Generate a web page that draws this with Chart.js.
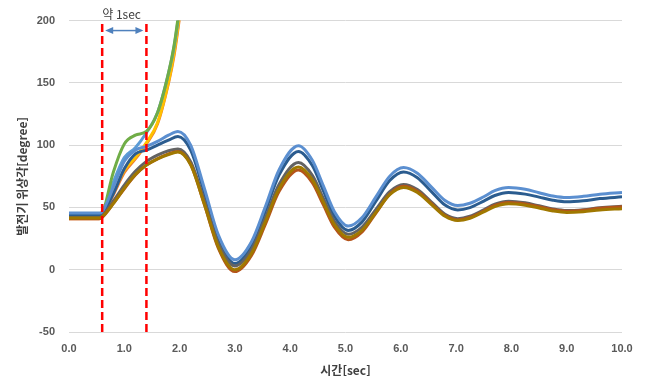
<!DOCTYPE html>
<html lang="ko">
<head>
<meta charset="UTF-8">
<title>발전기 위상각</title>
<script src="https://cdn.jsdelivr.net/npm/chart.js"></script>
<style>
  html, body { margin: 0; padding: 0; background: #fff; }
  #wrap { width: 645px; height: 392px; }
</style>
</head>
<body>
<div id="wrap"><canvas id="angleChart" width="645" height="392"></canvas></div>
<script>
// time axis points for the stable (damped) cases
const stableX = [0, 0.55, 0.6, 0.8, 1.0, 1.2, 1.4, 1.6, 1.8, 1.97, 2.2, 2.45, 2.7, 3.0, 3.3, 3.55, 3.8, 4.15, 4.4, 4.6, 4.8, 5.05, 5.3, 5.55, 5.8, 6.05, 6.3, 6.55, 6.8, 7.03, 7.25, 7.5, 7.7, 7.95, 8.25, 8.5, 8.75, 9.0, 9.3, 9.6, 10];
const lightBlue = [45.5, 45.5, 46.5, 66, 87, 96, 99, 103, 108, 111, 100, 65, 28, 8, 22.5, 50.5, 80.3, 99.5, 87.8, 67.3, 46.6, 35, 41.9, 58.5, 75.1, 82, 77.4, 66.5, 55.5, 51.5, 53.4, 58.6, 63.5, 66, 64.6, 61.8, 59.2, 58, 58.9, 60.6, 62];
const darkBlue = [44, 44, 45, 61, 81, 93, 96, 100, 104, 107, 96, 61.6, 24.9, 5, 19.3, 46.9, 76.1, 95, 83.6, 63.3, 42.9, 31.5, 38.4, 55, 71.6, 78.5, 73.9, 62.9, 51.9, 48, 49.9, 55.1, 59.6, 62, 60.7, 58.3, 55.8, 54.5, 55.3, 57.1, 58.5];
const darkGray = [42, 42, 43, 55, 68, 79, 87, 92, 95.5, 97, 86.8, 55.2, 21.3, 3, 16.2, 41.6, 68.6, 86, 75.7, 57.3, 38.9, 28.5, 34.3, 48.5, 62.7, 68.5, 64.3, 54.5, 44.5, 41, 42.9, 48.1, 52.6, 55, 53.7, 51.3, 48.8, 47.5, 48.2, 49.8, 51];
const brown = [41, 41, 42, 53, 65, 76, 84, 89, 93, 95, 84.6, 52.1, 17.3, -1.5, 11.5, 36.4, 62.9, 80, 69.9, 52, 34.1, 24, 30.3, 45.5, 60.7, 67, 62.9, 53.2, 43.5, 40, 41.9, 47.1, 51.6, 54, 52.8, 50.5, 48.2, 47, 47.7, 49.3, 50.5];
const olive = [41.5, 41.5, 42.5, 53, 65.5, 76.5, 84, 89, 92.5, 94.5, 84.3, 52.4, 18.4, 0, 13.1, 38.4, 65.2, 82.5, 72.3, 54.3, 36.2, 26, 31.8, 46, 60.2, 66, 62, 52.5, 42.9, 39.5, 41.3, 46.4, 50.7, 53, 51.8, 49.5, 47.2, 46, 46.6, 48, 49];

// unstable cases (run off the top of the chart)
const unstableX = [0, 0.55, 0.6, 0.8, 1.0, 1.2, 1.4, 1.6, 1.8, 1.9, 2.0, 2.1];
const greenUp = [42, 42, 44, 78, 101, 108, 111, 126, 158, 180, 212, 250];
const blueUp = [43, 43, 45, 70, 90, 98, 110, 126, 158, 179, 210, 248];
const orangeUp = [41, 41, 43, 60, 78, 89, 101, 117, 150, 172, 203, 240];
const yellowUp = [41.5, 41.5, 43, 62, 80, 90, 102, 118, 151, 174, 205, 242];

// fault markers and annotation
const markerX = [0.6, 1.4];
const markerY = [-50, 200];
const arrowY = 192;
const noteText = "약 1sec";

const toPoints = (xs, ys) => xs.map((x, i) => ({ x: x, y: ys[i] }));

function lineSet(xs, ys, color) {
  return {
    data: toPoints(xs, ys),
    borderColor: color,
    borderWidth: 3,
    pointRadius: 0,
    fill: false,
    cubicInterpolationMode: "monotone"
  };
}

const markerSets = markerX.map((mx) => ({
  data: markerY.map((my) => ({ x: mx, y: my })),
  borderColor: "#FF0000",
  borderWidth: 2.5,
  borderDash: [8, 4],
  pointRadius: 0,
  fill: false,
  clip: false
}));

// draws the double arrow between the markers and the label above it
const arrowNote = {
  id: "arrowNote",
  afterDatasetsDraw(chart) {
    const ctx = chart.ctx;
    const xs = chart.scales.x;
    const ys = chart.scales.y;
    const x1 = xs.getPixelForValue(markerX[0]) + 3;
    const x2 = xs.getPixelForValue(markerX[1]) - 3;
    const y = ys.getPixelForValue(arrowY);
    const head = 8;
    ctx.save();
    ctx.strokeStyle = "#4F81BD";
    ctx.fillStyle = "#4F81BD";
    ctx.lineWidth = 1.5;
    ctx.beginPath();
    ctx.moveTo(x1 + head - 1, y);
    ctx.lineTo(x2 - head + 1, y);
    ctx.stroke();
    ctx.beginPath();
    ctx.moveTo(x1, y);
    ctx.lineTo(x1 + head, y - 3.5);
    ctx.lineTo(x1 + head, y + 3.5);
    ctx.closePath();
    ctx.fill();
    ctx.beginPath();
    ctx.moveTo(x2, y);
    ctx.lineTo(x2 - head, y - 3.5);
    ctx.lineTo(x2 - head, y + 3.5);
    ctx.closePath();
    ctx.fill();

    ctx.fillStyle = "#404040";
    ctx.font = "12px 'Noto Sans CJK KR', 'Liberation Sans', sans-serif";
    ctx.textAlign = "center";
    ctx.textBaseline = "middle";
    ctx.fillText(noteText, xs.getPixelForValue(0.95), ys.getPixelForValue(205));
    ctx.restore();
  }
};

const ctx = document.getElementById("angleChart").getContext("2d");
new Chart(ctx, {
  type: "line",
  data: {
    datasets: [
      ...markerSets,
      lineSet(stableX, olive, "#A07800"),
      lineSet(stableX, brown, "#B5541A"),
      lineSet(stableX, darkGray, "#636363"),
      lineSet(stableX, lightBlue, "#5B8FD0"),
      lineSet(stableX, darkBlue, "#2B5C8F"),
      lineSet(unstableX, greenUp, "#70AD47"),
      lineSet(unstableX, blueUp, "#5B9BD5"),
      lineSet(unstableX, yellowUp, "#FFC000"),
      lineSet(unstableX, orangeUp, "#ED7D31")
    ]
  },
  options: {
    responsive: false,
    animation: false,
    layout: { padding: { top: 14, right: 23, left: 0, bottom: 0 } },
    plugins: { legend: { display: false }, tooltip: { enabled: false } },
    scales: {
      x: {
        type: "linear",
        min: 0,
        max: 10,
        afterFit: (scale) => { scale.height = 60; },
        grid: { display: false, drawTicks: false },
        border: { display: false },
        ticks: {
          stepSize: 1,
          padding: 10,
          color: "#595959",
          font: { family: "'Liberation Sans', sans-serif", size: 11, weight: "bold" },
          callback: (v) => Number(v).toFixed(1)
        },
        title: {
          display: true,
          text: "시간[sec]",
          color: "#404040",
          font: { family: "'Noto Sans CJK KR', sans-serif", size: 12, weight: "bold" },
          padding: { top: 0, bottom: 14 }
        }
      },
      y: {
        min: -50,
        max: 200,
        afterFit: (scale) => { scale.width = 69; },
        grid: { color: "#D9D9D9", lineWidth: 1, drawTicks: false },
        border: { display: false },
        ticks: {
          stepSize: 50,
          padding: 14,
          color: "#595959",
          font: { family: "'Liberation Sans', sans-serif", size: 11, weight: "bold" }
        },
        title: {
          display: true,
          text: "발전기 위상각[degree]",
          color: "#404040",
          font: { family: "'Noto Sans CJK KR', sans-serif", size: 12, weight: "bold" },
          padding: { top: 15, bottom: 0 }
        }
      }
    }
  },
  plugins: [arrowNote]
});
</script>
</body>
</html>
